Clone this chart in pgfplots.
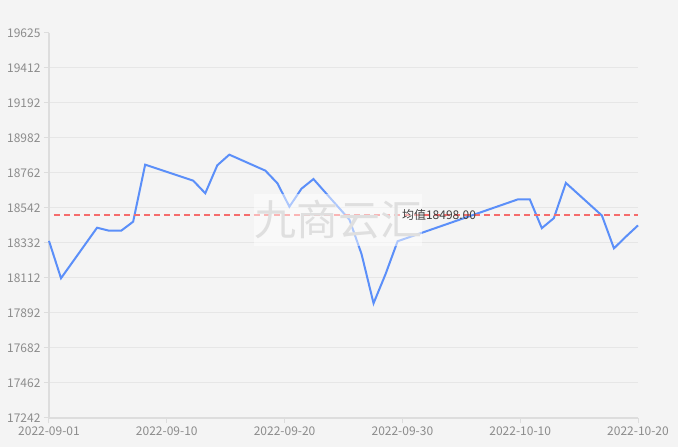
\documentclass[border=0pt]{standalone}
\usepackage{fontspec}
\setmainfont{Noto Sans CJK SC}
\usepackage{pgfplots}
\pgfplotsset{compat=1.18}
\definecolor{bgc}{HTML}{F4F4F4}
\definecolor{lineblue}{HTML}{5B8FF9}
\definecolor{meanred}{HTML}{F56C6C}
\definecolor{gridc}{HTML}{E6E6E6}
\definecolor{axc}{HTML}{DDDDDD}
\definecolor{labc}{HTML}{8C8C8C}
\begin{document}
\begin{tikzpicture}
\fill[bgc] (-49bp,-29bp) rectangle (629bp,418bp);
\begin{axis}[
  at={(0,0)}, anchor=south west,
  scale only axis, width=589bp, height=385bp,
  xmin=0, xmax=49, ymin=17242, ymax=19625,
  scaled y ticks=false, scaled x ticks=false,
  axis lines*=left,
  axis line style={axc, line width=1.5bp},
  tick style={axc, line width=1bp},
  tick align=outside, major tick length=5bp,
  xtick={0,9.8,19.6,29.4,39.2,49},
  xticklabels={2022-09-01,2022-09-10,2022-09-20,2022-09-30,2022-10-10,2022-10-20},
  ytick={17242,17458.636,17675.273,17891.909,18108.545,18325.182,18541.818,18758.455,18975.091,19191.727,19408.364},
  yticklabels={17242,17462,17682,17892,18112,18332,18542,18762,18982,19192,19412},
  extra y ticks={19625}, extra y tick labels={19625},
  extra y tick style={grid=none},
  ymajorgrids, major grid style={gridc, line width=1bp},
  ticklabel style={font=\fontsize{12bp}{14bp}\selectfont, text=labc},
  /pgf/number format/assume math mode=true,
  clip=false,
]
\addplot[lineblue, line width=2bp, sharp plot] coordinates {
(0,18338) (1,18107) (4,18420) (5,18401) (6,18401) (7,18457) (8,18810)
(12,18711) (13,18633) (14,18806) (15,18872) (18,18773) (19,18695)
(20,18550) (21,18661) (22,18721) (25,18469) (26,18257) (27,17952)
(28,18133) (29,18336) (39,18595) (40,18595) (41,18417) (42,18479)
(43,18697) (46,18495) (47,18292) (48,18365) (49,18434)
};
\addplot[meanred, line width=1.5bp, dash pattern=on 6bp off 4bp] coordinates {(0.4,18498) (49,18498)};
\node[fill=white, fill opacity=0.5, text opacity=1, text=gray!25,
  font=\fontsize{42bp}{42bp}\selectfont, inner sep=0pt,
  minimum width=165bp, minimum height=52bp] at (axis cs:24.05,18468) {九商云汇};
\node[font=\fontsize{12bp}{14bp}\selectfont, text=black!75, inner sep=0pt] at (axis cs:32.45,18498) {均值18498.00};
\end{axis}
\end{tikzpicture}
\end{document}
